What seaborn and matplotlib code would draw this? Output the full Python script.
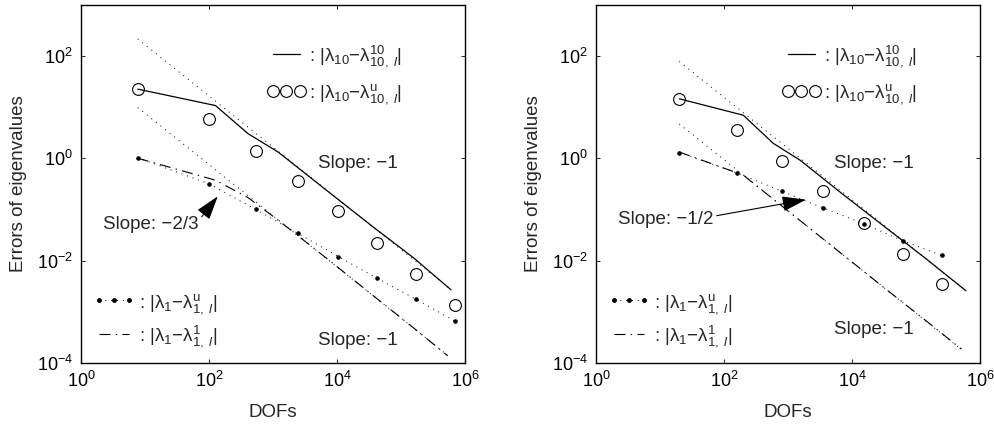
import matplotlib
matplotlib.use("Agg")
import matplotlib.pyplot as plt
from matplotlib.lines import Line2D
from matplotlib.ticker import NullLocator
import seaborn as sns

# ---- left panel data ----
left_dofs = [7.7, 100, 537, 2450, 10500, 42700, 174000, 708000]
left_err10_u = [22.4, 5.75, 1.38, 0.355, 0.0912, 0.0224, 0.0055, 0.00135]
left_err1_u = [1.02, 0.316, 0.100, 0.0339, 0.0120, 0.00447, 0.00174, 0.000646]
left_dofs_10 = [7.7, 126, 407, 1202, 6918, 35480, 158500, 602600]
left_err10_10 = [22.4, 10.7, 3.02, 1.32, 0.234, 0.0468, 0.0112, 0.00269]
left_dofs_1 = [7.7, 126, 407, 1202, 6918, 35480, 158500, 537000]
left_err1_1 = [1.0, 0.372, 0.170, 0.0617, 0.0110, 0.00214, 0.000479, 0.000138]
left_ref_hi_x = [7.7, 602600]
left_ref_hi_y = [214, 0.00273]
left_ref_lo_x = [7.7, 537000]
left_ref_lo_y = [9.77, 0.00014]

# ---- right panel data ----
right_dofs = [20, 162, 813, 3548, 15140, 61660, 251200]
right_err10_u = [14.5, 3.55, 0.891, 0.224, 0.0537, 0.0135, 0.00347]
right_err1_u = [1.29, 0.513, 0.224, 0.107, 0.0525, 0.0245, 0.0126]
right_dofs_10 = [20, 200, 589, 1549, 7079, 31620, 141300, 602600]
right_err10_10 = [14.5, 6.92, 1.95, 0.912, 0.200, 0.0468, 0.011, 0.00257]
right_dofs_1 = [20, 200, 589, 1549, 7079, 31620, 141300, 512900]
right_err1_1 = [1.32, 0.468, 0.158, 0.0603, 0.0132, 0.00295, 0.000676, 0.000186]
right_ref_hi_x = [20, 602600]
right_ref_hi_y = [77.6, 0.00257]
right_ref_lo_x = [20, 512900]
right_ref_lo_y = [4.68, 0.000182]

x_ticks = [1, 1e2, 1e4, 1e6]
y_ticks = [1e-4, 1e-2, 1, 1e2]

lab_10_10 = r": |λ$_{10}$−λ$^{10}_{10,\ l}$|"
lab_10_u = r": |λ$_{10}$−λ$^{\mathrm{u}}_{10,\ l}$|"
lab_1_u = r": |λ$_{1}$−λ$^{\mathrm{u}}_{1,\ l}$|"
lab_1_1 = r": |λ$_{1}$−λ$^{1}_{1,\ l}$|"

sns.set_style("ticks")
plt.rcParams["font.family"] = ["Liberation Sans", "DejaVu Sans"]
plt.rcParams.update({
    "mathtext.fontset": "custom",
    "mathtext.rm": "Liberation Sans",
    "mathtext.it": "Liberation Sans:italic",
    "mathtext.bf": "Liberation Sans:bold",
    "xtick.direction": "in",
    "ytick.direction": "in",
    "xtick.top": True,
    "ytick.right": True,
    "xtick.major.size": 3,
    "ytick.major.size": 3,
    "xtick.major.width": 0.6,
    "ytick.major.width": 0.6,
    "axes.linewidth": 1.0,
    "axes.edgecolor": "black",
    "xtick.color": "black",
    "ytick.color": "black",
})

DOT = (0, (1, 5))
DASHDOT = (0, (9.9, 4.8, 1.2, 4.8))

fig = plt.figure(figsize=(9.95, 4.25), dpi=100)
ax_l = fig.add_axes([0.0814, 0.146, 0.386, 0.843])
ax_r = fig.add_axes([0.599, 0.146, 0.386, 0.843])

panels = [
    (ax_l, left_dofs, left_err10_u, left_err1_u, left_dofs_10, left_err10_10,
     left_dofs_1, left_err1_1, left_ref_hi_x, left_ref_hi_y, left_ref_lo_x, left_ref_lo_y,
     "Slope: −2/3", (137, 0.18), (2.2, 0.051), (5130, 0.79), (5130, 0.000279)),
    (ax_r, right_dofs, right_err10_u, right_err1_u, right_dofs_10, right_err10_10,
     right_dofs_1, right_err1_1, right_ref_hi_x, right_ref_hi_y, right_ref_lo_x, right_ref_lo_y,
     "Slope: −1/2", (1905, 0.155), (2.2, 0.063), (5250, 0.79), (5250, 0.000457)),
]

for (ax, dofs, e10u, e1u, d10, e1010, d1, e11, rhx, rhy, rlx, rly,
     slope_txt, tip, txt_pos, s1_hi, s1_lo) in panels:
    ax.set_xscale("log")
    ax.set_yscale("log")

    # slope -1 reference lines
    sns.lineplot(x=rhx, y=rhy, ax=ax, color="k", lw=0.7, linestyle=DOT,
                 estimator=None, legend=False)
    sns.lineplot(x=rlx, y=rly, ax=ax, color="k", lw=0.7, linestyle=DOT,
                 estimator=None, legend=False)

    # |lambda_10 - lambda_10^10|
    sns.lineplot(x=d10, y=e1010, ax=ax, color="k", lw=0.9, estimator=None, legend=False)
    # |lambda_10 - lambda_10^u|
    sns.lineplot(x=dofs, y=e10u, ax=ax, color="k", linestyle="none", marker="o",
                 ms=8.5, mfc="none", mec="k", mew=0.8, estimator=None, legend=False)
    # |lambda_1 - lambda_1^u|
    sns.lineplot(x=dofs, y=e1u, ax=ax, color="k", lw=0.7, linestyle=DOT, marker=".",
                 ms=5, mec="k", estimator=None, legend=False)
    # |lambda_1 - lambda_1^1|
    sns.lineplot(x=d1, y=e11, ax=ax, color="k", lw=0.8, linestyle=DASHDOT,
                 estimator=None, legend=False)

    ax.set_xlim(1, 1e6)
    ax.set_ylim(1e-4, 1e3)
    ax.set_xticks(x_ticks)
    ax.set_yticks(y_ticks)
    ax.xaxis.set_minor_locator(NullLocator())
    ax.yaxis.set_minor_locator(NullLocator())
    ax.tick_params(labelsize=13, pad=6)
    ax.set_xlabel("DOFs", fontsize=13.5, labelpad=9)
    ax.set_ylabel("Errors of eigenvalues", fontsize=13.5, labelpad=7)
    for sp in ax.spines.values():
        sp.set_visible(True)

    ax.text(*s1_hi, "Slope: −1", fontsize=13.5, ha="left", va="center")
    ax.text(*s1_lo, "Slope: −1", fontsize=13.5, ha="left", va="center")
    ax.annotate(slope_txt, xy=tip, xytext=txt_pos, fontsize=13.5, ha="left", va="center",
                arrowprops=dict(arrowstyle="-|>,head_length=1.1,head_width=0.35",
                                color="k", lw=0.8, relpos=(1.0, 0.7),
                                shrinkA=0, shrinkB=0))

    h_solid = Line2D([], [], color="k", lw=0.9)
    h_circ = Line2D([], [], color="k", ls="none", marker="o", ms=8.5, mfc="none", mew=0.8)
    h_dot = Line2D([], [], color="k", lw=0.7, ls=DOT, marker=".", ms=5)
    h_dd = Line2D([], [], color="k", lw=0.8, ls=DASHDOT)
    leg1 = ax.legend([h_solid, h_circ], [lab_10_10, lab_10_u], loc="center",
                     bbox_to_anchor=(0.661, 0.805), frameon=False, numpoints=3,
                     handlelength=2.0, handletextpad=0.2, labelspacing=0.65,
                     fontsize=13.5, borderpad=0.2)
    ax.add_artist(leg1)
    ax.legend([h_dot, h_dd], [lab_1_u, lab_1_1], loc="center",
              bbox_to_anchor=(0.194, 0.119), frameon=False, numpoints=3,
              handlelength=2.2, handletextpad=0.2, labelspacing=0.4,
              fontsize=13.5, borderpad=0.2)

fig.savefig("out.png", dpi=100)
